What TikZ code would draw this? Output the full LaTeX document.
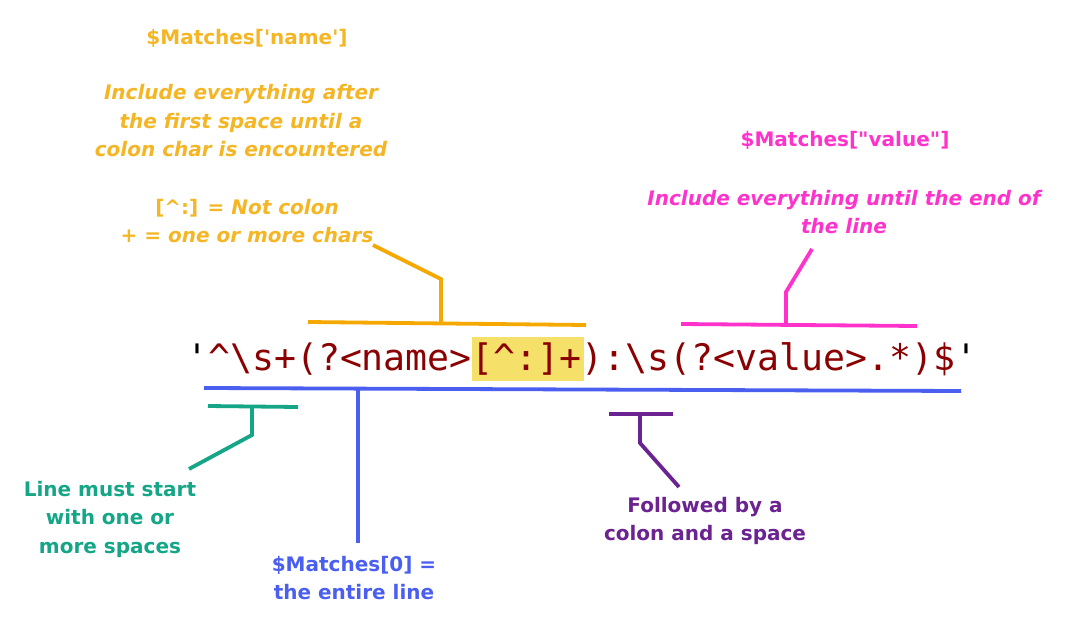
\documentclass[tikz,border=0pt]{standalone}
\usepackage{fontspec}
\newfontfamily\labelfont{DejaVu Sans}[BoldFont={* Bold},ItalicFont={* Oblique},BoldItalicFont={* Bold Oblique}]
\setmonofont{DejaVu Sans Mono}
\usetikzlibrary{positioning}

\begin{document}
\begin{tikzpicture}
[x=1pt,y=-1pt,line cap=butt,line join=miter,
% Styles
bracket/.style={line width=3.8pt},
label text/.style={font=\fontsize{20}{28.5}\selectfont\labelfont\bfseries,align=center,inner sep=0pt},
note text/.style={label text,font=\fontsize{20}{28.5}\selectfont\labelfont\bfseries\itshape},
regex text/.style={font=\fontsize{36.5}{40}\selectfont\ttfamily,text=regexcolor,inner sep=0pt,anchor=base west}]
% Colors
\definecolor{regexcolor}{HTML}{8B0000}
\definecolor{markcolor}{HTML}{F5E06A}
\definecolor{namecolor}{HTML}{F5A800}
\definecolor{nametext}{HTML}{F4B624}
\definecolor{valuecolor}{HTML}{FF33CC}
\definecolor{linecolor}{HTML}{4A5EF0}
\definecolor{spacecolor}{HTML}{14A687}
\definecolor{coloncolor}{HTML}{6A2390}
% Local definitions
\def\quotemark{{\color{black}\textquotesingle}}
% The graphic
\useasboundingbox[fill=white] (0,0) rectangle (1082,627);
\fill[markcolor] (472,337) rectangle (584,381);
\node[regex text] (regex) at (186,370)
{\quotemark\textasciicircum\textbackslash s+(?<name>[\textasciicircum:]+):\textbackslash s(?<value>.*)\$\quotemark};
% name group
\node[label text,text=nametext] (name title) at (247,38) {\$Matches[\textquotesingle name\textquotesingle]};
\node[note text,text=nametext] (name note) at (241,121)
{Include everything after\\the first space until a\\colon char is encountered};
\node[label text,text=nametext] (name rule) at (247,221)
{[\textasciicircum:] = \textit{Not colon}\\+ = \textit{one or more chars}};
\coordinate (name a) at (308,322);
\coordinate (name b) at (586,325);
\coordinate (name c) at (441,323.5);
\coordinate (name d) at (441,279);
\coordinate (name e) at (373,245);
\draw[bracket,namecolor] (name a) -- (name b);
\draw[bracket,namecolor] (name c) -- (name d) -- (name e);
% value group
\node[label text,text=valuecolor] (value title) at (845,140) {\$Matches[\textquotedbl value\textquotedbl]};
\node[note text,text=valuecolor] (value note) at (844,212)
{Include everything until the end of\\the line};
\coordinate (value a) at (681,324);
\coordinate (value b) at (917,326);
\coordinate (value c) at (786,325);
\coordinate (value d) at (786,292);
\coordinate (value e) at (812,249);
\draw[bracket,valuecolor] (value a) -- (value b);
\draw[bracket,valuecolor] (value c) -- (value d) -- (value e);
% whole line
\node[label text,text=linecolor] (line note) at (354,578) {\$Matches[0] =\\the entire line};
\coordinate (line a) at (204,388);
\coordinate (line b) at (961,391);
\coordinate (line c) at (358,389);
\coordinate (line d) at (358,543);
\draw[bracket,linecolor] (line a) -- (line b);
\draw[bracket,linecolor] (line c) -- (line d);
% leading spaces
\node[label text,text=spacecolor] (space note) at (110,519) {Line must start\\with one or\\more spaces};
\coordinate (space a) at (208,406);
\coordinate (space b) at (298,407);
\coordinate (space c) at (252,406.5);
\coordinate (space d) at (252,435);
\coordinate (space e) at (189,469);
\draw[bracket,spacecolor] (space a) -- (space b);
\draw[bracket,spacecolor] (space c) -- (space d) -- (space e);
% colon and space
\node[label text,text=coloncolor] (colon note) at (705,521) {Followed by a\\colon and a space};
\coordinate (colon a) at (609,414);
\coordinate (colon b) at (673,414);
\coordinate (colon c) at (640,414);
\coordinate (colon d) at (640,443);
\coordinate (colon e) at (679,487);
\draw[bracket,coloncolor] (colon a) -- (colon b);
\draw[bracket,coloncolor] (colon c) -- (colon d) -- (colon e);
\end{tikzpicture}
\end{document}
